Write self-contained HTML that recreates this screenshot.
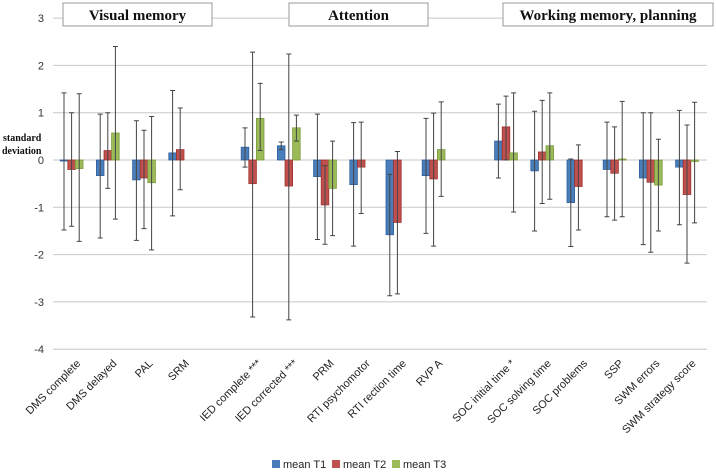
<!DOCTYPE html>
<html><head><meta charset="utf-8"><style>
body{margin:0;background:#fff;}
svg{display:block;font-family:"Liberation Sans",sans-serif;}
</style></head><body>
<svg id="c" width="716" height="475"></svg>
<script>
const categories=["DMS complete","DMS delayed","PAL","SRM","","IED complete ***","IED corrected ***","PRM","RTI psychomotor","RTI rection time","RVP A","","SOC initial time *","SOC solving time","SOC problems","SSP","SWM errors","SWM strategy score"];
const t1=[-0.02,-0.33,-0.42,0.15,null,0.27,0.30,-0.35,-0.52,-1.58,-0.33,null,0.40,-0.23,-0.90,-0.20,-0.38,-0.15];
const t1Lo=[-1.48,-1.65,-1.70,-1.18,null,-0.15,0.22,-1.68,-1.82,-2.87,-1.55,null,-0.38,-1.50,-1.83,-1.20,-1.79,-1.37];
const t1Hi=[1.42,0.97,0.83,1.47,null,0.68,0.38,0.97,0.79,-0.30,0.88,null,1.18,1.03,0.02,0.80,1.00,1.05];
const t2=[-0.20,0.20,-0.38,0.22,null,-0.50,-0.55,-0.95,-0.15,-1.32,-0.40,null,0.70,0.17,-0.56,-0.28,-0.47,-0.73];
const t2Lo=[-1.40,-0.60,-1.45,-0.63,null,-3.32,-3.38,-1.78,-1.13,-2.83,-1.82,null,0.00,-0.92,-1.48,-1.27,-1.95,-2.18];
const t2Hi=[1.00,1.00,0.63,1.10,null,2.28,2.24,-0.12,0.80,0.18,0.99,null,1.35,1.26,0.32,0.70,1.00,0.74];
const t3=[-0.18,0.57,-0.48,null,null,0.88,0.68,-0.60,null,null,0.22,null,0.15,0.30,null,0.02,-0.53,-0.03];
const t3Lo=[-1.72,-1.25,-1.90,null,null,0.20,0.40,-1.60,null,null,-0.77,null,-1.10,-0.83,null,-1.20,-1.50,-1.33];
const t3Hi=[1.40,2.40,0.92,null,null,1.62,0.95,0.40,null,null,1.23,null,1.42,1.42,null,1.24,0.44,1.22];
const yTicks=[3,2,1,0,-1,-2,-3,-4];
const series=[{v:t1,lo:t1Lo,hi:t1Hi,c:"#4a7ebb",s:"#2e5f9e",n:"mean T1"},{v:t2,lo:t2Lo,hi:t2Hi,c:"#c0504d",s:"#9e3330",n:"mean T2"},{v:t3,lo:t3Lo,hi:t3Hi,c:"#9bbb59",s:"#7a9a3c",n:"mean T3"}];
const NS="http://www.w3.org/2000/svg",svg=document.getElementById("c");
const x0=54,slot=36.2,y0=160,unit=47.3;
const y=v=>y0-v*unit, xc=i=>x0+slot*(i+0.5);
function el(t,a,p){const e=document.createElementNS(NS,t);for(const k in a)e.setAttribute(k,a[k]);(p||svg).appendChild(e);return e;}
yTicks.forEach(t=>{
  const g=el("line",{x1:53,x2:707,y1:y(t),y2:y(t),stroke:"#c8c8c8","stroke-width":1});
  
  
  const l=el("text",{x:44,y:y(t)+4,"text-anchor":"end","font-size":11,fill:"#333"});l.textContent=t;
  
  
});
const bw=7.6;
series.forEach((s,si)=>{
  s.v.forEach((v,i)=>{
    if(v===null)return;
    const bx=xc(i)+(si-1.5)*bw-0.5;
    const r=el("rect",{x:bx,y:Math.min(y(v),y0),width:bw,height:Math.max(Math.abs(y(v)-y0),1),fill:s.c,stroke:s.s,"stroke-width":0.8});
    
    
    const ex=bx+bw/2;
    const e=el("path",{d:`M${ex},${y(s.hi[i])}V${y(s.lo[i])}M${ex-2.5},${y(s.hi[i])}h5M${ex-2.5},${y(s.lo[i])}h5`,stroke:"#444","stroke-width":1,fill:"none"});
    
    
  });
});
categories.forEach((c,i)=>{
  if(!c)return;
  const tx=xc(i)+9,ty=364;
  const t=el("text",{x:tx,y:ty,"text-anchor":"end","font-size":11,fill:"#222",transform:`rotate(-45 ${tx} ${ty})`});t.textContent=c;
  
  
});
[["Visual memory",63,212],["Attention",289,428],["Working memory, planning",503,713]].forEach(h=>{
  const r=el("rect",{x:h[1],y:3,width:h[2]-h[1],height:23,fill:"#fff",stroke:"#999","stroke-width":1});
  
  
  const t=el("text",{x:(h[1]+h[2])/2,y:20,"text-anchor":"middle","font-size":15,"font-weight":"bold","font-family":"Liberation Serif,serif",fill:"#111"});t.textContent=h[0];
  
  
});
const yl=el("text",{x:3,y:141,"font-size":10,"font-weight":"bold","font-family":"Liberation Serif,serif",fill:"#111"});


yl.innerHTML='<tspan x="3">standard</tspan><tspan x="2" dy="13">deviation</tspan>';
series.forEach((s,si)=>{
  const lx=272+si*60;
  const r=el("rect",{x:lx,y:460,width:8,height:8,fill:s.c});
  
  
  const t=el("text",{x:lx+11,y:468,"font-size":11,fill:"#222"});t.textContent=s.n;
  
  
});
</script>
</body></html>
